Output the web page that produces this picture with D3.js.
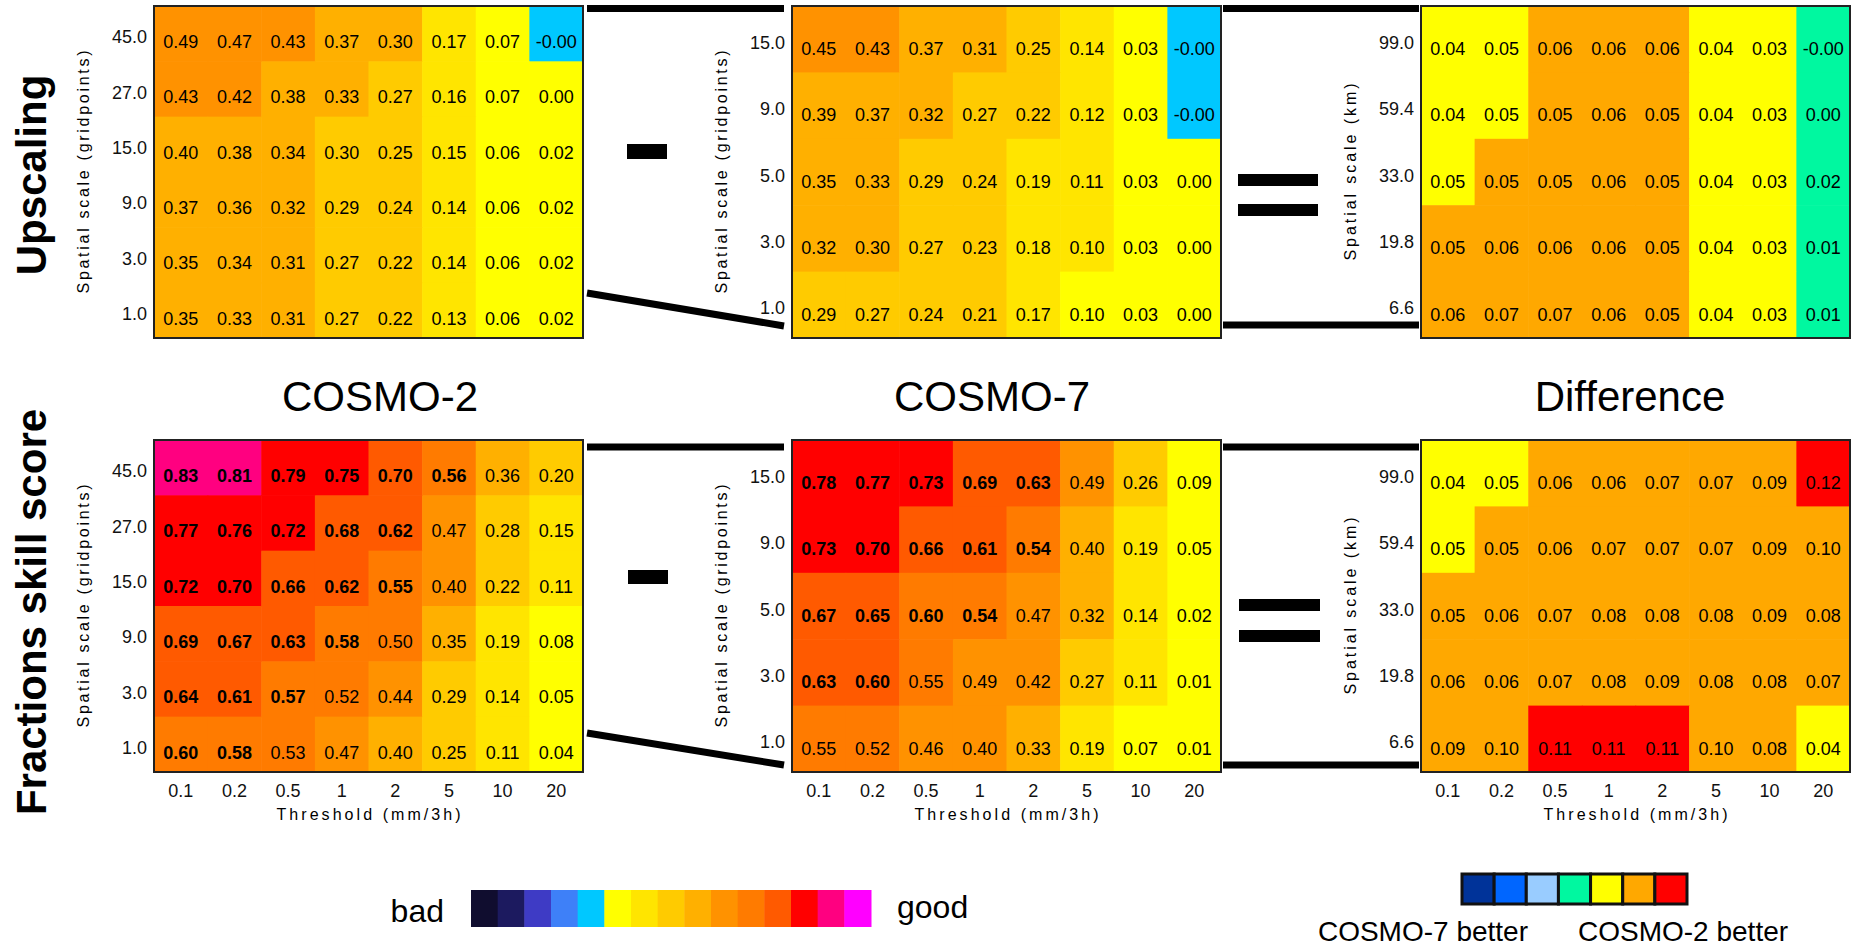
<!DOCTYPE html>
<html>
<head>
<meta charset="utf-8">
<script src="https://cdn.jsdelivr.net/npm/d3@7"></script>
<style>
  body { margin: 0; background: #fff; }
  svg { display: block; font-family: "Liberation Sans", Arial, sans-serif; }
</style>
</head>
<body>
<svg id="fig" width="1856" height="948"></svg>
<script>
// ---- data ----
const thresholds = ["0.1", "0.2", "0.5", "1", "2", "5", "10", "20"];
const scalesC2 = ["45.0", "27.0", "15.0", "9.0", "3.0", "1.0"];
const scalesC7 = ["15.0", "9.0", "5.0", "3.0", "1.0"];
const scalesKm = ["99.0", "59.4", "33.0", "19.8", "6.6"];

const upscaleC2 = [
  [0.49, 0.47, 0.43, 0.37, 0.302, 0.17, 0.07, -0.002],
  [0.43, 0.42, 0.38, 0.33, 0.27, 0.16, 0.07, 0.002],
  [0.398, 0.38, 0.34, 0.298, 0.25, 0.15, 0.06, 0.02],
  [0.37, 0.36, 0.32, 0.29, 0.24, 0.14, 0.06, 0.02],
  [0.35, 0.34, 0.31, 0.27, 0.22, 0.14, 0.06, 0.02],
  [0.35, 0.33, 0.31, 0.27, 0.22, 0.13, 0.06, 0.02]
];
const upscaleC7 = [
  [0.45, 0.43, 0.37, 0.31, 0.25, 0.14, 0.03, -0.002],
  [0.39, 0.37, 0.32, 0.27, 0.22, 0.12, 0.03, -0.002],
  [0.35, 0.33, 0.29, 0.24, 0.19, 0.11, 0.03, 0.002],
  [0.32, 0.302, 0.27, 0.23, 0.18, 0.102, 0.03, 0.002],
  [0.29, 0.27, 0.24, 0.21, 0.17, 0.098, 0.03, 0.002]
];
const upscaleDiff = [
  [0.04, 0.048, 0.06, 0.06, 0.06, 0.04, 0.03, -0.002],
  [0.04, 0.048, 0.052, 0.06, 0.052, 0.04, 0.03, 0.002],
  [0.048, 0.052, 0.052, 0.06, 0.052, 0.04, 0.03, 0.02],
  [0.052, 0.06, 0.06, 0.06, 0.052, 0.04, 0.03, 0.01],
  [0.06, 0.07, 0.07, 0.06, 0.052, 0.04, 0.03, 0.01]
];
const fssC2 = [
  [0.83, 0.81, 0.79, 0.75, 0.698, 0.56, 0.36, 0.202],
  [0.77, 0.76, 0.72, 0.68, 0.62, 0.47, 0.28, 0.15],
  [0.72, 0.702, 0.66, 0.62, 0.55, 0.402, 0.22, 0.11],
  [0.69, 0.67, 0.63, 0.58, 0.502, 0.35, 0.19, 0.08],
  [0.64, 0.61, 0.57, 0.52, 0.44, 0.29, 0.14, 0.05],
  [0.598, 0.58, 0.53, 0.47, 0.398, 0.25, 0.11, 0.04]
];
const fssC7 = [
  [0.78, 0.77, 0.73, 0.69, 0.63, 0.49, 0.26, 0.09],
  [0.73, 0.702, 0.66, 0.61, 0.54, 0.398, 0.19, 0.05],
  [0.67, 0.65, 0.598, 0.54, 0.47, 0.32, 0.14, 0.02],
  [0.63, 0.602, 0.55, 0.49, 0.42, 0.27, 0.11, 0.01],
  [0.55, 0.52, 0.46, 0.402, 0.33, 0.19, 0.07, 0.01]
];
const fssDiff = [
  [0.04, 0.048, 0.06, 0.06, 0.07, 0.07, 0.09, 0.12],
  [0.048, 0.052, 0.06, 0.07, 0.07, 0.07, 0.09, 0.098],
  [0.052, 0.06, 0.07, 0.08, 0.08, 0.08, 0.09, 0.08],
  [0.06, 0.06, 0.07, 0.08, 0.09, 0.08, 0.08, 0.07],
  [0.09, 0.098, 0.11, 0.11, 0.11, 0.098, 0.08, 0.04]
];
// useful FSS (0.5 + f/2) per threshold, values above are printed bold
const fssUseful = [0.58, 0.56, 0.555, 0.525, 0.51, 0.505, 0.502, 0.501];

const skillBreaks = [-0.4, -0.3, -0.2, -0.1, 0, 0.1, 0.2, 0.3, 0.4, 0.5, 0.6, 0.7, 0.8, 0.9];
const skillColors = ["#100d2f", "#1c1a5f", "#3e3bc5", "#3e80f8", "#00c8ff", "#ffff00", "#ffe500",
  "#ffcb00", "#ffb000", "#ff9200", "#ff7b00", "#ff5a00", "#ff0000", "#ff0080", "#ff00ff"];
const diffBreaks = [-0.1, -0.05, -0.025, 0.025, 0.05, 0.1];
const diffColors = ["#003399", "#0066ff", "#99ccff", "#00f8a0", "#ffff00", "#ffa800", "#ff0000"];

// ---- layout ----
const svg = d3.select("#fig");
const W = 429, H = 332;
const colX = [154, 792, 1421];
const rowY = [6, 440];
const f2 = d3.format(".2f");
// keep the sign of small negatives ("-0.00") like the original plot
const fmt = v => (v < 0 ? "-" : "") + f2(Math.abs(v));

const skillColor = d3.scaleThreshold().domain(skillBreaks).range(skillColors);
const diffColor = d3.scaleThreshold().domain(diffBreaks).range(diffColors);

function panel(px, py, rows, values, color, opts) {
  let x = d3.scaleBand().domain(thresholds).range([px, px + W]);
  let y = d3.scaleBand().domain(rows).range([py, py + H]);
  let g = svg.append("g");

  let cells = values.flatMap((r, i) => r.map((v, j) => ({ row: rows[i], thr: thresholds[j], j: j, v: v })));

  g.selectAll("rect.cell")
    .data(cells)
    .join("rect")
      .attr("x", d => x(d.thr))
      .attr("y", d => y(d.row))
      .attr("width", x.bandwidth() + 0.6)
      .attr("height", y.bandwidth() + 0.6)
      .attr("fill", d => color(d.v));

  g.selectAll("text.val")
    .data(cells)
    .join("text")
      .attr("x", d => x(d.thr) + x.bandwidth() / 2)
      .attr("y", d => y(d.row) + y.bandwidth() * 0.64)
      .attr("dy", "0.36em")
      .attr("text-anchor", "middle")
      .style("font-size", "18px")
      .style("font-weight", d => opts.useful && d.v > opts.useful[d.j] ? "bold" : "normal")
      .text(d => fmt(d.v));

  g.append("rect")
    .attr("x", px).attr("y", py)
    .attr("width", W).attr("height", H)
    .attr("fill", "none")
    .attr("stroke", "#222")
    .attr("stroke-width", 2);

  // y axis
  let ya = g.append("g")
    .attr("transform", "translate(" + px + ",0)")
    .call(d3.axisLeft(y).tickSize(0).tickPadding(7));
  ya.select(".domain").remove();
  ya.attr("font-size", null).attr("font-family", null);
  ya.selectAll("text").style("font-size", "18px").attr("dy", "0.53em").attr("fill", "#111");

  g.append("text")
    .attr("transform", "translate(" + (px - 65) + "," + (py + H / 2) + ")rotate(-90)")
    .attr("text-anchor", "middle")
    .style("font-size", "16px")
    .attr("textLength", opts.ytitleLen)
    .attr("lengthAdjust", "spacing")
    .text(opts.ytitle);

  if (opts.xaxis) {
    let xa = g.append("g")
      .attr("transform", "translate(0," + (py + H) + ")")
      .call(d3.axisBottom(x).tickSize(0).tickPadding(12));
    xa.select(".domain").remove();
    xa.attr("font-size", null).attr("font-family", null);
    xa.selectAll("text").style("font-size", "18px").attr("fill", "#111");

    g.append("text")
      .attr("x", px + W / 2)
      .attr("y", py + H + 48)
      .attr("text-anchor", "middle")
      .style("font-size", "16px")
      .attr("textLength", 184)
      .attr("lengthAdjust", "spacing")
      .text("Threshold (mm/3h)");
  }
}

panel(colX[0], rowY[0], scalesC2, upscaleC2, skillColor, { ytitle: "Spatial scale (gridpoints)", ytitleLen: 243 });
panel(colX[1], rowY[0], scalesC7, upscaleC7, skillColor, { ytitle: "Spatial scale (gridpoints)", ytitleLen: 243 });
panel(colX[2], rowY[0], scalesKm, upscaleDiff, diffColor, { ytitle: "Spatial scale (km)", ytitleLen: 177 });
panel(colX[0], rowY[1], scalesC2, fssC2, skillColor, { ytitle: "Spatial scale (gridpoints)", ytitleLen: 243, useful: fssUseful, xaxis: true });
panel(colX[1], rowY[1], scalesC7, fssC7, skillColor, { ytitle: "Spatial scale (gridpoints)", ytitleLen: 243, useful: fssUseful, xaxis: true });
panel(colX[2], rowY[1], scalesKm, fssDiff, diffColor, { ytitle: "Spatial scale (km)", ytitleLen: 177, xaxis: true });

// row titles
[["Upscaling", 175], ["Fractions skill score", 612]].forEach(t => {
  svg.append("text")
    .attr("transform", "translate(46," + t[1] + ")rotate(-90)")
    .attr("text-anchor", "middle")
    .style("font-size", "42px")
    .style("font-weight", "bold")
    .text(t[0]);
});

// column titles
[["COSMO-2", 380], ["COSMO-7", 992], ["Difference", 1630]].forEach(t => {
  svg.append("text")
    .attr("x", t[1]).attr("y", 411)
    .attr("text-anchor", "middle")
    .style("font-size", "42px")
    .text(t[0]);
});

// connectors:  panel - panel = panel
let deco = svg.append("g").attr("stroke", "#000").attr("stroke-width", 7);
[[587, 8.5, 784, 8.5], [587, 293, 784, 326], [1223, 8.5, 1419, 8.5], [1223, 325, 1419, 325],
 [587, 447, 784, 447], [587, 733, 784, 765], [1223, 447, 1419, 447], [1223, 765, 1419, 765]]
  .forEach(l => deco.append("line").attr("x1", l[0]).attr("y1", l[1]).attr("x2", l[2]).attr("y2", l[3]));

let ops = svg.append("g").attr("fill", "#000");
[[627, 144, 40, 15], [628, 570, 40, 14], [1238, 174, 80, 12], [1238, 204, 80, 12],
 [1239, 599, 81, 12], [1239, 630, 81, 12]]
  .forEach(r => ops.append("rect").attr("x", r[0]).attr("y", r[1]).attr("width", r[2]).attr("height", r[3]));

// legend: skill
let lx = d3.scaleBand().domain(d3.range(skillColors.length)).range([471, 871]);
svg.append("g").selectAll("rect")
  .data(skillColors)
  .join("rect")
    .attr("x", (d, i) => lx(i))
    .attr("y", 890)
    .attr("width", lx.bandwidth() + 0.5)
    .attr("height", 37)
    .attr("fill", d => d);
svg.append("text").attr("x", 444).attr("y", 922).attr("text-anchor", "end").style("font-size", "32px").text("bad");
svg.append("text").attr("x", 897).attr("y", 918).style("font-size", "32px").text("good");

// legend: difference
let dx = d3.scaleBand().domain(d3.range(diffColors.length)).range([1462, 1687]);
svg.append("g").selectAll("rect")
  .data(diffColors)
  .join("rect")
    .attr("x", (d, i) => dx(i))
    .attr("y", 874)
    .attr("width", dx.bandwidth())
    .attr("height", 30)
    .attr("fill", d => d)
    .attr("stroke", "#111")
    .attr("stroke-width", 3);
svg.append("text").attr("x", 1528).attr("y", 941).attr("text-anchor", "end").style("font-size", "28px").text("COSMO-7 better");
svg.append("text").attr("x", 1578).attr("y", 941).style("font-size", "28px").text("COSMO-2 better");
</script>
</body>
</html>
